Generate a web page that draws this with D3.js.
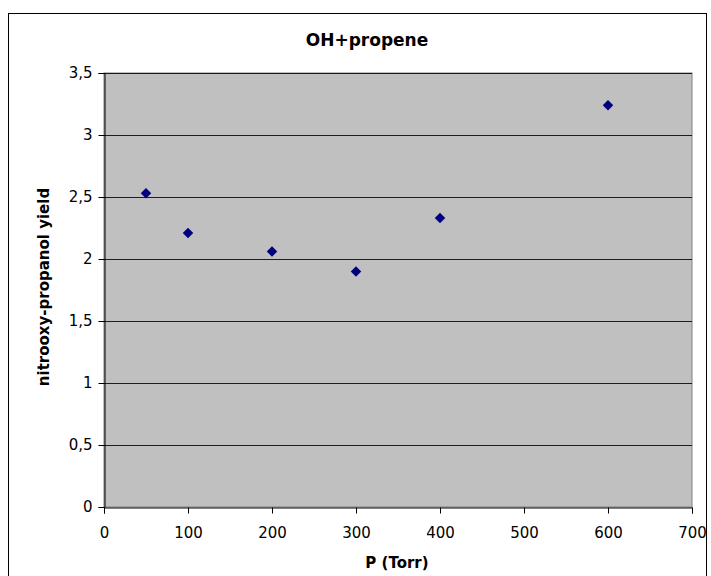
<!DOCTYPE html>
<html>
<head>
<meta charset="utf-8">
<script src="https://cdn.jsdelivr.net/npm/d3@7"></script>
<style>
  body { margin: 0; background: #fff; }
  text { font-family: "DejaVu Sans", sans-serif; }
</style>
</head>
<body>
<svg id="chart"></svg>
<script>
// data
const pressure = [50, 100, 200, 300, 400, 600];
const yieldValues = [2.53, 2.21, 2.06, 1.9, 2.33, 3.24];
const xTicks = [0, 100, 200, 300, 400, 500, 600, 700];
const yTicks = [0, 0.5, 1, 1.5, 2, 2.5, 3, 3.5];

const width = 711,
	height = 576,
	plot = { left: 104, top: 73, right: 692, bottom: 507 };

const svg = d3.select('#chart').attr('width', width).attr('height', height);

// outer chart frame
svg.append('rect')
	.attr('x', 8.5).attr('y', 13.5)
	.attr('width', 698).attr('height', 600)
	.attr('fill', '#fff').attr('stroke', '#000').attr('stroke-width', 1);

const x = d3.scaleLinear().domain([0, 700]).range([plot.left, plot.right]);
const y = d3.scaleLinear().domain([0, 3.5]).range([plot.bottom, plot.top]);

svg.append('rect')
	.attr('x', plot.left).attr('y', plot.top)
	.attr('width', plot.right - plot.left).attr('height', plot.bottom - plot.top)
	.attr('fill', '#c0c0c0').attr('stroke', '#808080');

// gridlines
svg.append('g')
	.selectAll('line')
	.data(yTicks.filter(d => d > 0))
	.join('line')
	.attr('x1', plot.left).attr('x2', plot.right)
	.attr('y1', d => Math.round(y(d)) + 0.5).attr('y2', d => Math.round(y(d)) + 0.5)
	.attr('stroke', '#000').attr('stroke-opacity', 0.85);

const fmt = d => String(d).replace('.', ',');

const xAxis = svg.append('g')
	.attr('transform', `translate(0,${plot.bottom + 0.5})`)
	.call(d3.axisBottom(x).tickValues(xTicks).tickFormat(fmt).tickSize(6).tickPadding(14));
const yAxis = svg.append('g')
	.attr('transform', `translate(${plot.left + 0.5},0)`)
	.call(d3.axisLeft(y).tickValues(yTicks).tickFormat(fmt).tickSize(6).tickPadding(6));

[xAxis, yAxis].forEach(g => {
	g.selectAll('path').attr('stroke', '#000');
	g.selectAll('line').attr('stroke', '#000');
	g.selectAll('text')
		.attr('font-family', '"DejaVu Sans", sans-serif')
		.attr('font-size', 15).attr('fill', '#000');
});

// diamond markers
svg.append('g')
	.selectAll('path')
	.data(pressure.map((p, i) => [p, yieldValues[i]]))
	.join('path')
	.attr('d', d3.symbol(d3.symbolDiamond2, 70))
	.attr('transform', d => `translate(${x(d[0])},${y(d[1])})`)
	.attr('fill', '#000080');

svg.append('text')
	.attr('x', 367).attr('y', 46)
	.attr('text-anchor', 'middle')
	.attr('font-family', '"Liberation Sans", Arial, sans-serif')
	.attr('font-size', 17).attr('font-weight', 'bold')
	.text('OH+propene');

svg.append('text')
	.attr('x', 397).attr('y', 568)
	.attr('text-anchor', 'middle')
	.attr('font-size', 15).attr('font-weight', 'bold')
	.text('P (Torr)');

svg.append('text')
	.attr('transform', 'translate(49,287) rotate(-90)')
	.attr('text-anchor', 'middle')
	.attr('font-size', 15).attr('font-weight', 'bold')
	.text('nitrooxy-propanol yield');
</script>
</body>
</html>
